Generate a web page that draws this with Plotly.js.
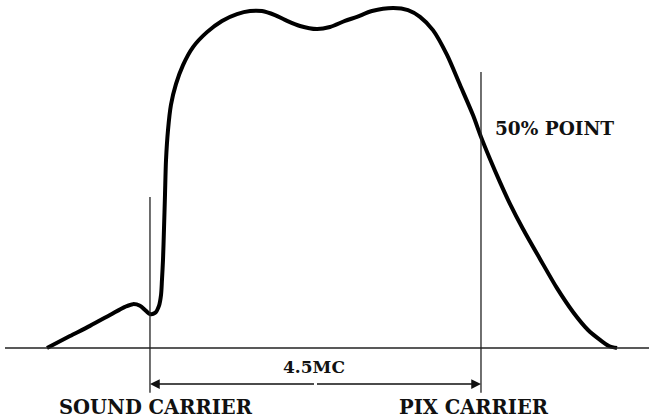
<!DOCTYPE html>
<html>
<head>
<meta charset="utf-8">
<script src="https://cdn.plot.ly/plotly-3.0.1.min.js"></script>
<style>html,body{margin:0;padding:0;background:#fff;}#chart{width:649px;height:420px;}</style>
</head>
<body>
<div id="chart"></div>
<script>
// Frequency (MC) relative to the sound carrier, and relative response (%)
var freq = [-1.400, -1.088, -0.816, -0.544, -0.340, -0.231, -0.136, -0.054, 0.000, 0.068,
            0.122, 0.150, 0.163, 0.177, 0.190, 0.204, 0.218, 0.245, 0.285, 0.353,
            0.449, 0.585, 0.775, 0.979, 1.183, 1.360, 1.523, 1.699, 1.835, 2.039,
            2.270, 2.447, 2.651, 2.814, 3.018, 3.304, 3.508, 3.671, 3.847, 4.038,
            4.214, 4.391, 4.500, 4.622, 4.758, 4.894, 5.071, 5.302, 5.533, 5.751,
            5.955, 6.118, 6.240, 6.349];
var response = [0, 3.5, 6.5, 9.7, 12.1, 12.9, 12.4, 10.9, 10.0, 10.3,
                12.4, 15.6, 20.0, 25.9, 34.7, 45.0, 55.3, 64.1, 71.5, 77.6,
                83.2, 88.5, 92.9, 96.2, 98.2, 99.1, 99.1, 97.9, 96.5, 94.7,
                93.8, 94.4, 96.2, 97.4, 99.1, 100, 99.4, 97.4, 93.5, 86.2,
                77.4, 68.5, 62.1, 55.6, 48.8, 42.4, 35.0, 26.2, 17.6, 10.6,
                5.3, 2.4, 0.6, 0];

var soundCarrier = 0;
var pixCarrier = 4.5;
var spacingLabel = "4.5MC";
var soundLabel = "SOUND CARRIER";
var pixLabel = "PIX CARRIER";
var pointLabel = "50% POINT";

var font = {family: "DejaVu Serif", color: "#111", size: 19.5};

var traces = [
  {x: freq, y: response, mode: "lines", type: "scatter",
   line: {color: "#000", width: 4, shape: "spline", smoothing: 0.8},
   hoverinfo: "skip"}
];

var layout = {
  width: 649, height: 420,
  margin: {l: 0, r: 0, t: 0, b: 0, pad: 0},
  paper_bgcolor: "#fff", plot_bgcolor: "#fff",
  showlegend: false,
  xaxis: {range: [-2.039, 6.784], visible: false, fixedrange: true},
  yaxis: {range: [-21.18, 102.35], visible: false, fixedrange: true},
  shapes: [
    {type: "line", xref: "x", yref: "y", x0: -1.971, x1: 6.784, y0: 0, y1: 0,
     line: {color: "#222", width: 1.5}},
    {type: "line", xref: "x", yref: "y", x0: soundCarrier, x1: soundCarrier, y0: 44.4, y1: -13.2,
     line: {color: "#222", width: 1.3}},
    {type: "line", xref: "x", yref: "y", x0: pixCarrier, x1: pixCarrier, y0: 81.2, y1: -13.2,
     line: {color: "#222", width: 1.3}}
  ],
  annotations: [
    {x: soundCarrier, y: -10.6, ax: (soundCarrier + pixCarrier) / 2, ay: -10.6,
     xref: "x", yref: "y", axref: "x", ayref: "y", text: "", showarrow: true,
     arrowhead: 2, arrowsize: 1.3, arrowwidth: 1.5, arrowcolor: "#111"},
    {x: pixCarrier, y: -10.6, ax: (soundCarrier + pixCarrier) / 2, ay: -10.6,
     xref: "x", yref: "y", axref: "x", ayref: "y", text: "", showarrow: true,
     arrowhead: 2, arrowsize: 1.3, arrowwidth: 1.5, arrowcolor: "#111"},
    {x: 2.23, y: -5.6, xref: "x", yref: "y", text: "<b>" + spacingLabel + "</b>", showarrow: false,
     xanchor: "center", yanchor: "middle", font: {family: font.family, color: font.color, size: 17}},
    {x: 0.082, y: -21.18, xref: "x", yref: "y", text: "<b>" + soundLabel + "</b>", showarrow: false,
     xanchor: "center", yanchor: "bottom", borderpad: 0, font: font},
    {x: 4.405, y: -21.18, xref: "x", yref: "y", text: "<b>" + pixLabel + "</b>", showarrow: false,
     xanchor: "center", yanchor: "bottom", borderpad: 0, font: font},
    {x: 4.663, y: 64.7, xref: "x", yref: "y", text: "<b>" + pointLabel + "</b>", showarrow: false,
     xanchor: "left", yanchor: "middle", font: {family: font.family, color: font.color, size: 18.5}}
  ]
};

Plotly.newPlot("chart", traces, layout, {displayModeBar: false, staticPlot: true});
</script>
</body>
</html>
